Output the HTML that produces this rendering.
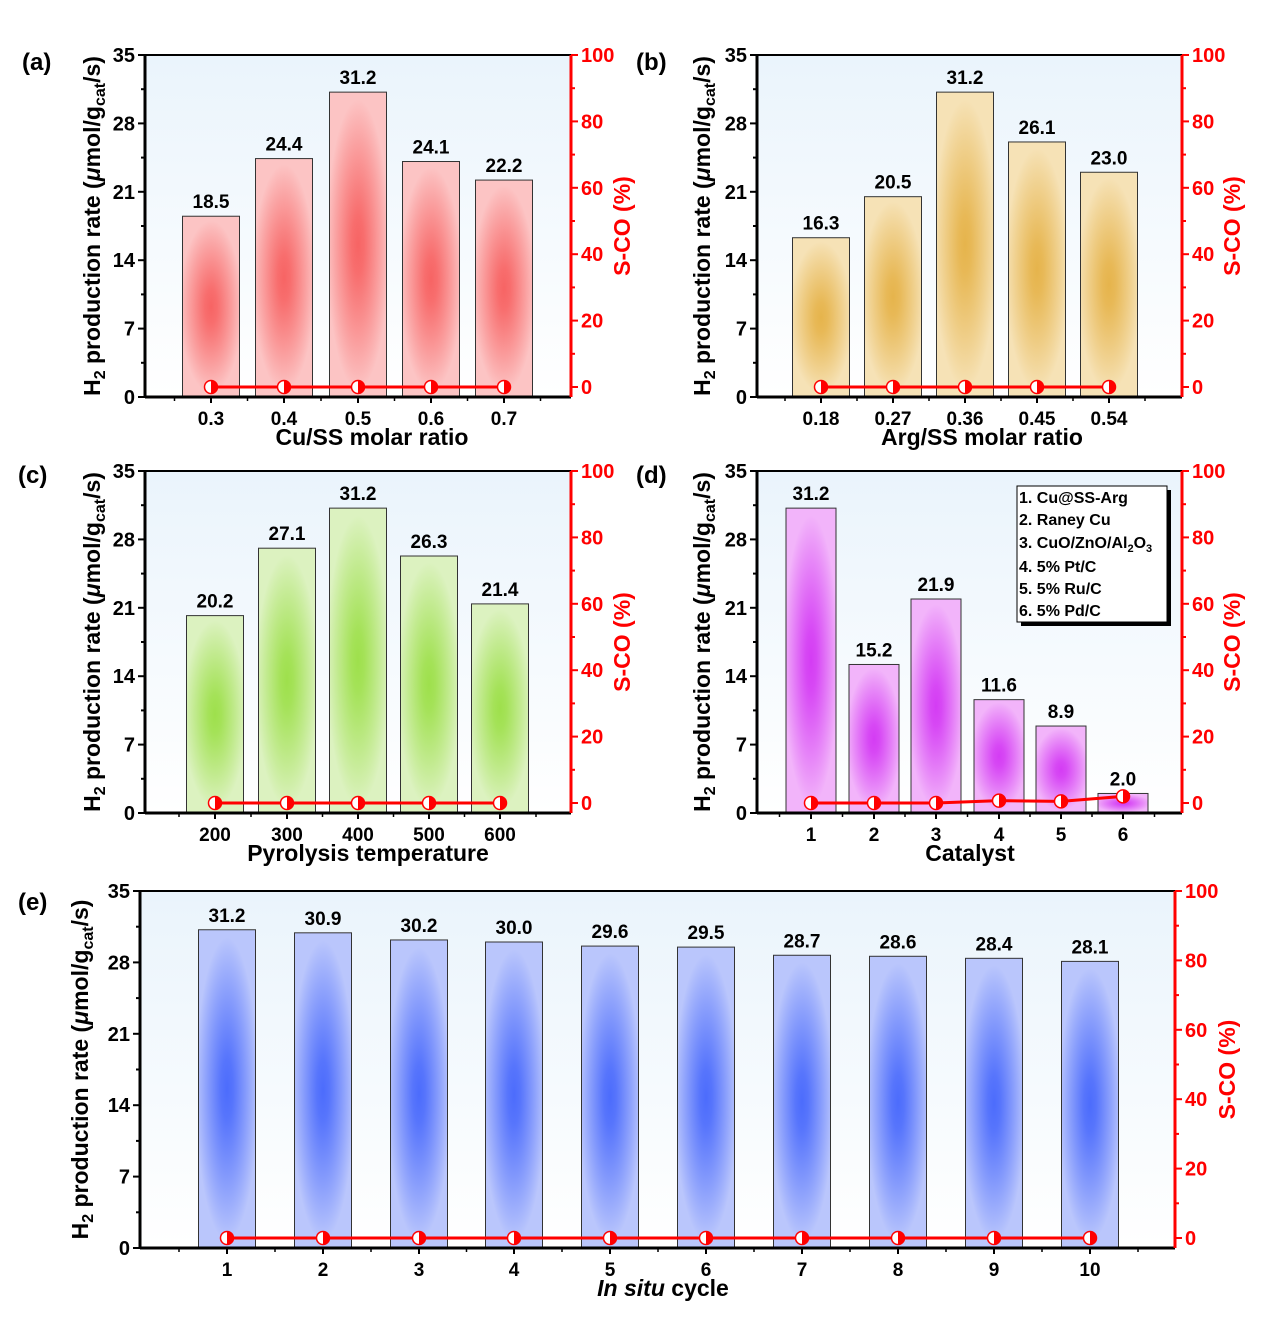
<!DOCTYPE html>
<html><head><meta charset="utf-8"><style>
body{margin:0;background:#fff;}
svg text{font-family:"Liberation Sans",Arial,sans-serif;font-weight:bold;}
</style></head><body>
<svg id="s" width="1269" height="1316" xmlns="http://www.w3.org/2000/svg"></svg>
<script>
const s=document.getElementById('s');
let h='';
const cols={a:['#fcc4c4','#f76464'],b:['#f6e2b6','#e6b44c'],c:['#dcf2c0','#9ee04c'],d:['#f2b4fa','#d43cf4'],e:['#bac6fc','#4c6cfc']};
h+='<defs><linearGradient id="bg" x1="0" y1="0" x2="0" y2="1"><stop offset="0" stop-color="#eaf4fc"/><stop offset="1" stop-color="#ffffff"/></linearGradient>';
for(const k in cols){const[c1,c2]=cols[k];
h+=`<radialGradient id="g${k}" cx="0.5" cy="0.5" r="0.5" gradientTransform="translate(0.5 0.5) scale(1.1 0.95) translate(-0.5 -0.5)"><stop offset="0" stop-color="${c2}"/><stop offset="0.2" stop-color="${c2}" stop-opacity="0.9"/><stop offset="1" stop-color="${c1}"/></radialGradient>`;}
h+='</defs>';
function panel(o){
 const {L,R,T,B,z0,ymax,k,cx,vals,bw,xl,lab,labx,rlabx,cats,mk,xt}=o;
 const sy=(B-T)/ymax, rs=(z0-T)/100;
 h+=`<rect x="${L}" y="${T}" width="${R-L}" height="${B-T}" fill="url(#bg)"/>`;
 cx.forEach((x,i)=>{const v=vals[i],y=B-v*sy;
  h+=`<rect x="${x-bw/2}" y="${y}" width="${bw}" height="${B-y}" fill="${cols[k][0]}"/>`;
  h+=`<rect x="${x-bw/2}" y="${y}" width="${bw}" height="${B-y}" fill="url(#g${k})" stroke="#333" stroke-width="1"/>`;
  h+=`<text x="${x}" y="${y-8}" font-size="19" text-anchor="middle">${v.toFixed(1)}</text>`;
  h+=`<text x="${x}" y="${B+28}" font-size="19" text-anchor="middle">${cats[i]}</text>`;
  h+=`<line x1="${x}" y1="${B}" x2="${x}" y2="${B+6}" stroke="#000" stroke-width="2"/>`;
  if(i<cx.length-1){const m=(x+cx[i+1])/2;h+=`<line x1="${m}" y1="${B}" x2="${m}" y2="${B+4}" stroke="#000" stroke-width="1.5"/>`;}
 });
 const d=cx[1]-cx[0];
 [cx[0]-d/2,cx[cx.length-1]+d/2].forEach(m=>{if(m>L&&m<R)h+=`<line x1="${m}" y1="${B}" x2="${m}" y2="${B+4}" stroke="#000" stroke-width="1.5"/>`;});
 const pts=cx.map((x,i)=>[x,z0-mk[i]*rs]);
 h+=`<polyline points="${pts.map(p=>p.join(',')).join(' ')}" fill="none" stroke="#f00" stroke-width="3"/>`;
 pts.forEach(p=>{h+=`<circle cx="${p[0]}" cy="${p[1]}" r="6.5" fill="#fff" stroke="#f00" stroke-width="1.5"/><path d="M${p[0]} ${p[1]-6.5} A6.5 6.5 0 0 1 ${p[0]} ${p[1]+6.5}Z" fill="#f00"/>`;});
 h+=`<line x1="${L}" y1="${T}" x2="${R}" y2="${T}" stroke="#000" stroke-width="2"/>`;
 h+=`<line x1="${L}" y1="${B}" x2="${R}" y2="${B}" stroke="#000" stroke-width="3"/>`;
 h+=`<line x1="${L}" y1="${T}" x2="${L}" y2="${B}" stroke="#000" stroke-width="3"/>`;
 h+=`<line x1="${R}" y1="${T}" x2="${R}" y2="${B}" stroke="#f00" stroke-width="3"/>`;
 for(let v=0;v<=35;v+=3.5){const y=B-v*sy,maj=(v%7===0);
  h+=`<line x1="${L-(maj?7:4)}" y1="${y}" x2="${L}" y2="${y}" stroke="#000" stroke-width="2"/>`;
  if(maj)h+=`<text x="${L-10}" y="${y+7}" font-size="20" text-anchor="end">${v}</text>`;}
 for(let v=0;v<=100;v+=10){const y=z0-v*rs,maj=(v%20===0);
  h+=`<line x1="${R}" y1="${y}" x2="${R+(maj?7:4)}" y2="${y}" stroke="#f00" stroke-width="2"/>`;
  if(maj)h+=`<text x="${R+10}" y="${y+7}" font-size="20" fill="#f00">${v}</text>`;}
 h+=`<text x="${xt}" y="${B+48}" font-size="23" text-anchor="middle">${xl}</text>`;
 const my=(T+B)/2;
 h+=`<text transform="translate(${labx},${my}) rotate(-90)" font-size="23" text-anchor="middle">H<tspan font-size="16" dy="5">2</tspan><tspan dy="-5"> production rate (</tspan><tspan font-style="italic">μ</tspan>mol/g<tspan font-size="16" dy="5">cat</tspan><tspan dy="-5">/s)</tspan></text>`;
 h+=`<text transform="translate(${rlabx},${my}) rotate(-90)" font-size="23" fill="#f00" text-anchor="middle">S-CO (%)</text>`;
 h+=`<text x="${o.px}" y="${o.py}" font-size="24">${lab}</text>`;
}
const z5=[0,0,0,0,0];
panel({L:145,R:571,T:55,B:397,z0:387,ymax:35,k:'a',cx:[211,284,358,431,504],vals:[18.5,24.4,31.2,24.1,22.2],bw:57,cats:['0.3','0.4','0.5','0.6','0.7'],xl:'Cu/SS molar ratio',xt:372,lab:'(a)',px:22,py:70,labx:100,rlabx:630,mk:z5});
panel({L:757,R:1182,T:55,B:397,z0:387,ymax:35,k:'b',cx:[821,893,965,1037,1109],vals:[16.3,20.5,31.2,26.1,23.0],bw:57,cats:['0.18','0.27','0.36','0.45','0.54'],xl:'Arg/SS molar ratio',xt:982,lab:'(b)',px:636,py:70,labx:710,rlabx:1240,mk:z5});
panel({L:145,R:571,T:471,B:813,z0:803,ymax:35,k:'c',cx:[215,287,358,429,500],vals:[20.2,27.1,31.2,26.3,21.4],bw:57,cats:['200','300','400','500','600'],xl:'Pyrolysis temperature',xt:368,lab:'(c)',px:18,py:483,labx:100,rlabx:630,mk:z5});
panel({L:757,R:1182,T:471,B:813,z0:803,ymax:35,k:'d',cx:[811,874,936,999,1061,1123],vals:[31.2,15.2,21.9,11.6,8.9,2.0],bw:50,cats:['1','2','3','4','5','6'],xl:'Catalyst',xt:970,lab:'(d)',px:636,py:483,labx:710,rlabx:1240,mk:[0,0,0,0.7,0.5,2]});
panel({L:140,R:1175,T:891,B:1248,z0:1238,ymax:35,k:'e',cx:[227,323,419,514,610,706,802,898,994,1090],vals:[31.2,30.9,30.2,30.0,29.6,29.5,28.7,28.6,28.4,28.1],bw:57,cats:['1','2','3','4','5','6','7','8','9','10'],xl:'<tspan font-style="italic">In situ</tspan> cycle',xt:663,lab:'(e)',px:18,py:910,labx:88,rlabx:1235,mk:[0,0,0,0,0,0,0,0,0,0]});
h+='<rect x="1021" y="490" width="150" height="136" fill="#000"/><rect x="1017" y="486" width="150" height="136" fill="#fff" stroke="#000" stroke-width="1"/>';
const lg=['1. Cu@SS-Arg','2. Raney Cu','3. CuO/ZnO/Al<tspan font-size="11" dy="4">2</tspan><tspan dy="-4">O</tspan><tspan font-size="11" dy="4">3</tspan>','4. 5% Pt/C','5. 5% Ru/C','6. 5% Pd/C'];
const ly=[503,525,548,572,594,616];
lg.forEach((t,i)=>{h+=`<text x="1019" y="${ly[i]}" font-size="16">${t}</text>`;});
s.innerHTML=h;
</script>
</body></html>
